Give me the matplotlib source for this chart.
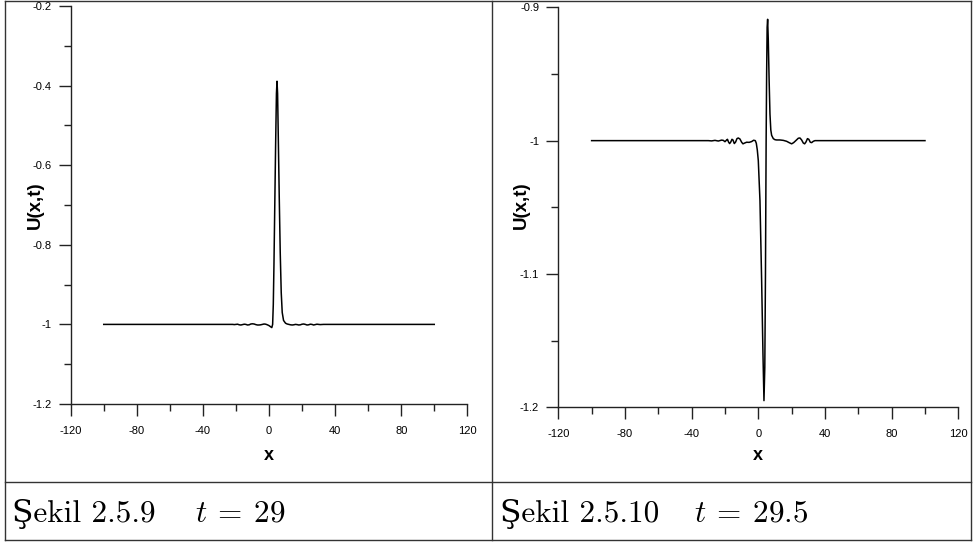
import matplotlib
matplotlib.use("Agg")
import matplotlib.pyplot as plt
from matplotlib.lines import Line2D

plt.rcParams['mathtext.fontset'] = 'cm'

W, H = 974, 543

# ---------------- data ----------------
x_ticks = [-120, -80, -40, 0, 40, 80, 120]
x_minor = [-100, -60, -20, 20, 60, 100]
x_tick_labels = ["-120", "-80", "-40", "0", "40", "80", "120"]

left_yticks = [-1.2, -1.0, -0.8, -0.6, -0.4, -0.2]
left_yminor = [-1.1, -0.9, -0.7, -0.5, -0.3]
left_ytick_labels = ["-1.2", "-1", "-0.8", "-0.6", "-0.4", "-0.2"]

right_yticks = [-1.2, -1.1, -1.0, -0.9]
right_yminor = [-1.15, -1.05, -0.95]
right_ytick_labels = ["-1.2", "-1.1", "-1", "-0.9"]

# t = 29
x_t29 = [-100, -30, -22, -21, -20, -19, -18, -17, -16, -15, -14, -13, -12, -11,
         -10, -9, -8, -7, -6, -5, -4, -3, -2, -1, 0, 1, 1.7, 2.2,
         2.6, 3.0, 3.5, 4.0, 4.5, 4.85, 5.2, 5.7, 6.2, 6.8, 7.4, 8.0, 8.8, 10,
         11, 12, 13, 14, 15, 16, 17, 18, 19, 20, 21, 22, 23, 24, 25, 26, 27,
         28, 29, 30, 31, 33, 100]
u_t29 = [-1.0, -1.0, -1.0, -1.0005, -1.0, -0.9995, -1.001, -1.0015, -1.0005,
         -0.9995, -1.0, -1.0015, -1.001, -0.999, -0.9985, -0.999, -1.0005,
         -1.0015, -1.0015, -1.001, -1.0, -0.999, -0.9995, -1.001, -1.003,
         -1.006, -1.008, -1.0,
         -0.95, -0.85, -0.70, -0.55, -0.42, -0.389, -0.42, -0.55, -0.68, -0.82,
         -0.92, -0.97, -0.99, -0.997,
         -0.999, -1.0, -1.001, -1.0015, -1.001, -1.0, -1.0005, -1.0015, -1.001,
         -0.9995, -0.999, -1.0, -1.0015, -1.001, -0.9995, -1.0, -1.0015,
         -1.0005, -0.9995, -1.0, -1.0005, -1.0, -1.0]

# t = 29.5
x_t295 = [-100, -30, -28, -26, -24, -22, -21, -20, -19, -18.5, -17.8, -17.2,
          -16.5, -15.8, -15.2, -14.4, -13.6, -12.8, -12, -11, -10, -9.2, -8.2,
          -7, -5.5, -4, -2.8, -1.8, -1.2, -0.6, 0, 1.0, 2.0, 2.8, 3.4, 3.9,
          4.3, 4.7, 5.0, 5.3, 5.6, 6.0, 6.5, 7.0, 7.5, 8.0, 9, 10, 11, 13, 15,
          17, 18.5, 20, 21.2, 22.5, 24, 25, 26, 27, 27.8, 28.6, 29.5, 30.3,
          31.2, 32, 33, 34, 36, 100]
u_t295 = [-1.0, -1.0, -1.0002, -0.9998, -1.0003, -0.9996, -0.9998, -1.0008,
          -0.9995, -0.999, -1.0012, -1.0022, -1.001, -0.999, -0.9995, -1.0022,
          -1.001, -0.9985, -0.998, -0.9988, -1.0012, -1.0024, -1.0018, -1.0012,
          -1.0013, -1.0007, -0.9997, -1.0, -1.002, -1.007, -1.015, -1.045,
          -1.105, -1.16, -1.195, -1.17, -1.10, -1.0, -0.95, -0.915, -0.909,
          -0.925, -0.955, -0.98, -0.992, -0.996, -0.9985, -0.9993, -0.9995,
          -0.9995, -0.9998, -1.0005, -1.0015, -1.0024, -1.0015, -1.0, -0.9982,
          -0.998, -0.9995, -1.0018, -1.0024, -1.001, -0.9985, -0.999, -1.0012,
          -1.0015, -1.0005, -1.0, -1.0, -1.0]

captions_left = ["Şekil 2.5.9", "Şekil 2.5.10"]
captions_right = [r"$t\:=\:29$", r"$t\:=\:29.5$"]

# ---------------- figure ----------------
fig = plt.figure(figsize=(W / 100, H / 100), dpi=100)


def fx(px):
    return px / W


def fy(py):
    return 1 - py / H


def make_axes(l, t, r, b):
    return fig.add_axes([fx(l), fy(b), fx(r) - fx(l), fy(t) - fy(b)])


ax1 = make_axes(70.7, 6.0, 467.3, 404.0)
ax2 = make_axes(558.3, 7.3, 958.3, 407.3)

panels = [
    (ax1, x_t29, u_t29, (-1.2, -0.2), left_yticks, left_yminor, left_ytick_labels),
    (ax2, x_t295, u_t295, (-1.2, -0.9), right_yticks, right_yminor, right_ytick_labels),
]

tick_font = dict(family="Liberation Sans", size=8)

for ax, xs, ys, ylim, yt, ym, ytl in panels:
    ax.plot(xs, ys, color="black", lw=1.1, solid_joinstyle="round")
    ax.set_xlim(-120, 120)
    ax.set_ylim(*ylim)
    for s in ["top", "right"]:
        ax.spines[s].set_visible(False)
    for s in ["left", "bottom"]:
        ax.spines[s].set_color("#222222")
        ax.spines[s].set_linewidth(1.0)
    ax.set_xticks(x_ticks)
    ax.set_xticklabels(x_tick_labels, fontdict=tick_font)
    ax.set_xticks(x_minor, minor=True)
    ax.set_yticks(yt)
    ax.set_yticklabels(ytl, fontdict=tick_font)
    ax.set_yticks(ym, minor=True)
    ax.tick_params(which="major", direction="out", length=8.8, width=1.0,
                   color="#222222", pad=5)
    ax.tick_params(which="minor", direction="out", length=5.0, width=1.0,
                   color="#222222")
    ax.tick_params(axis="x", which="major", pad=7)
    ax.patch.set_alpha(0)

# axis labels
for xp in (35, 521):
    fig.text(fx(xp), fy(205), "U(x,t)", rotation=90, ha="center", va="center",
             fontsize=13.5, fontweight="bold", family="Liberation Sans")
for xp in (268.7, 758.3):
    fig.text(fx(xp), fy(456), "x", ha="center", va="center",
             fontsize=13, fontweight="bold", family="Liberation Sans")

# captions
cap_family = ["cmr10", "DejaVu Serif"]
fig.text(fx(12), fy(522), captions_left[0], ha="left", va="baseline",
         fontsize=22.5, family=cap_family)
fig.text(fx(195), fy(522), captions_right[0], ha="left", va="baseline",
         fontsize=22.5)
fig.text(fx(500), fy(522), captions_left[1], ha="left", va="baseline",
         fontsize=22.5, family=cap_family)
fig.text(fx(694), fy(522), captions_right[1], ha="left", va="baseline",
         fontsize=22.5)

# frame lines
frame_col = "#333333"


def hline(y, x0, x1):
    fig.add_artist(Line2D([fx(x0), fx(x1)], [fy(y), fy(y)], color=frame_col, lw=1.0))


def vline(x, y0, y1):
    fig.add_artist(Line2D([fx(x), fx(x)], [fy(y0), fy(y1)], color=frame_col, lw=1.0))


hline(1, 5, 971)
hline(482, 5, 971)
hline(540, 5, 971)
vline(5, 1, 540)
vline(971, 1, 540)
vline(492, 1, 540)

fig.savefig("out.png", dpi=100)
